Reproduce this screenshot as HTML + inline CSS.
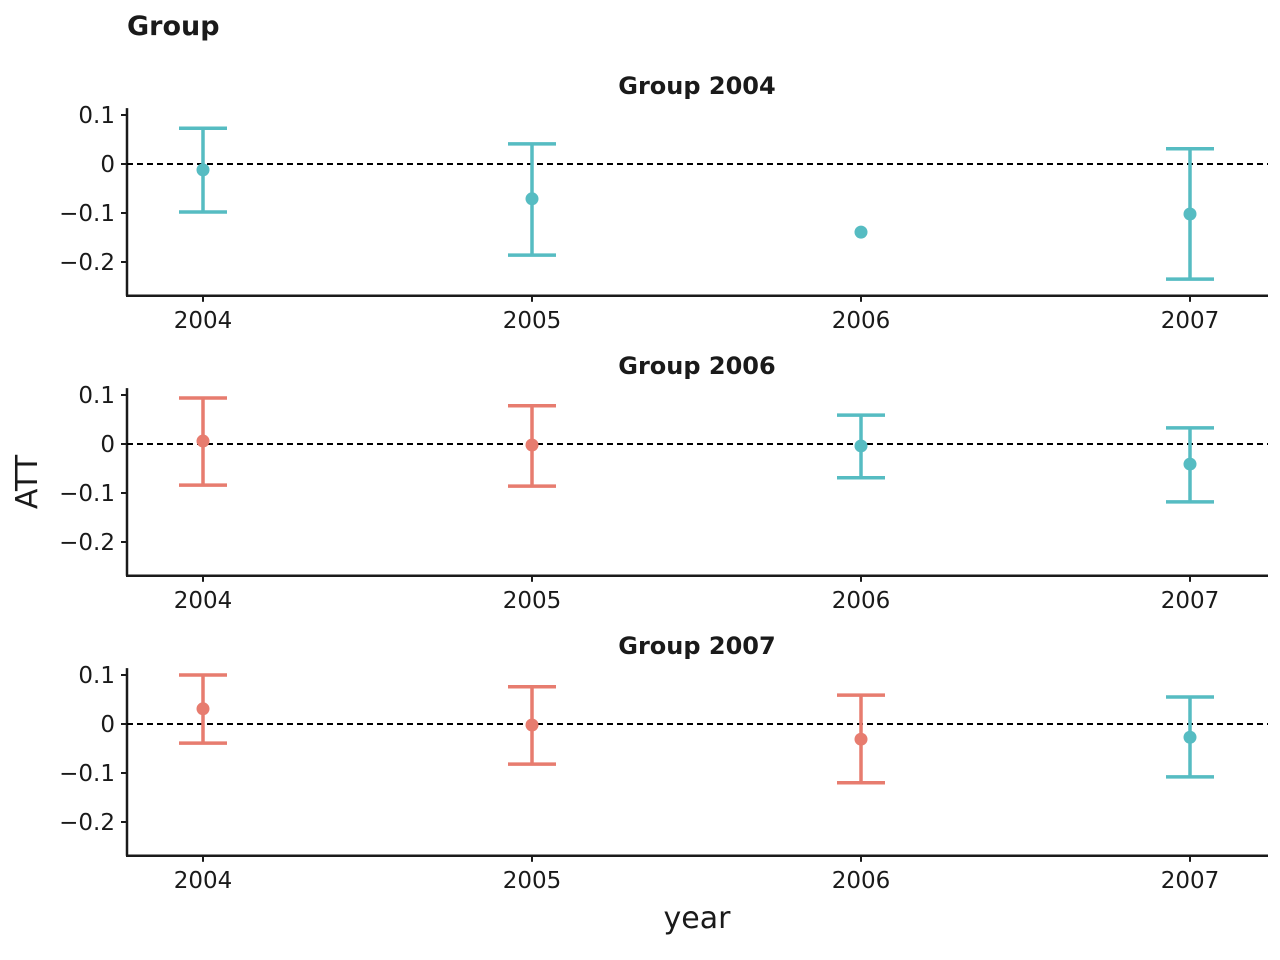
<!DOCTYPE html>
<html><head><meta charset="utf-8"><style>
body{margin:0;background:#fff;}
svg{display:block;font-family:"DejaVu Sans","Liberation Sans",sans-serif;}
</style></head><body>
<svg id="chart" width="1280" height="960">
<text x="127" y="35" font-size="27" font-weight="bold" fill="#1a1a1a">Group</text>
<text x="37" y="482" font-size="30" fill="#1a1a1a" transform="rotate(-90 37 482)" text-anchor="middle">ATT</text>
<text x="697" y="928" font-size="30" fill="#1a1a1a" text-anchor="middle">year</text>
</svg>
<script>
const years = [2004, 2005, 2006, 2007];
const panelTitles = ["Group 2004", "Group 2006", "Group 2007"];
const yTicks = [0.1, 0, -0.1, -0.2];
const yTickLabels = ["0.1", "0", "\u22120.1", "\u22120.2"];
const att1 = [-0.012, -0.071, -0.139, -0.102];
const upper1 = [0.073, 0.041, null, 0.031];
const lower1 = [-0.098, -0.186, null, -0.235];
const post1 = [1, 1, 1, 1];
const att2 = [0.006, -0.002, -0.004, -0.041];
const upper2 = [0.094, 0.078, 0.059, 0.033];
const lower2 = [-0.084, -0.086, -0.069, -0.118];
const post2 = [0, 0, 1, 1];
const att3 = [0.031, -0.002, -0.031, -0.027];
const upper3 = [0.1, 0.076, 0.059, 0.055];
const lower3 = [-0.039, -0.082, -0.12, -0.108];
const post3 = [0, 0, 0, 1];

const panels = [[att1, upper1, lower1, post1], [att2, upper2, lower2, post2], [att3, upper3, lower3, post3]];
const svg = document.getElementById('chart');
const NS = 'http://www.w3.org/2000/svg';
function mk(tag, attrs, parent) {
  const e = document.createElementNS(NS, tag);
  for (const k in attrs) e.setAttribute(k, attrs[k]);
  (parent || svg).appendChild(e);
  return e;
}
const xScale = y => 203 + (y - 2004) * 329;
const yMin = -0.269, yMax = 0.114;
panels.forEach((p, i) => {
  const zero = 164 + i * 280;
  const yScale = v => zero - v * 490;
  const g = mk('g', {});
  
  
  const t = mk('text', {x: 697, y: 94 + i * 280, 'font-size': 24, 'font-weight': 'bold', fill: '#1a1a1a', 'text-anchor': 'middle'}, g);
  t.textContent = panelTitles[i];
  
  
  const top = yScale(yMax), bot = yScale(yMin);
  const ya = mk('line', {x1: 127, x2: 127, y1: top, y2: bot, stroke: '#1a1a1a', 'stroke-width': 2.5}, g);
  
  
  const xa = mk('line', {x1: 126, x2: 1268, y1: bot, y2: bot, stroke: '#1a1a1a', 'stroke-width': 2.5}, g);
  
  
  yTicks.forEach((v, k) => {
    mk('line', {x1: 121, x2: 127, y1: yScale(v), y2: yScale(v), stroke: '#1a1a1a', 'stroke-width': 2}, g);
    const tl = mk('text', {x: 115, y: yScale(v) + 8, 'font-size': 23, fill: '#1a1a1a', 'text-anchor': 'end'}, g);
    tl.textContent = yTickLabels[k];
    
    
  });
  years.forEach(y => {
    mk('line', {x1: xScale(y), x2: xScale(y), y1: bot, y2: bot + 6, stroke: '#1a1a1a', 'stroke-width': 2}, g);
    const tl = mk('text', {x: xScale(y), y: bot + 32, 'font-size': 23, fill: '#1a1a1a', 'text-anchor': 'middle'}, g);
    tl.textContent = y;
    
    
  });
  const zl = mk('line', {x1: 127, x2: 1268, y1: zero, y2: zero, stroke: '#000', 'stroke-width': 2, 'stroke-dasharray': '6,4'}, g);
  
  
  const [att, up, lo, post] = p;
  years.forEach((y, k) => {
    const c = post[k] ? '#56BCC2' : '#E77C6F';
    const x = xScale(y);
    if (up[k] !== null) {
      const eb = mk('g', {stroke: c, 'stroke-width': 3.5, fill: 'none'}, g);
      
      
      mk('line', {x1: x, x2: x, y1: yScale(up[k]), y2: yScale(lo[k])}, eb);
      mk('line', {x1: x - 24, x2: x + 24, y1: yScale(up[k]), y2: yScale(up[k])}, eb);
      mk('line', {x1: x - 24, x2: x + 24, y1: yScale(lo[k]), y2: yScale(lo[k])}, eb);
    }
    const pt = mk('circle', {cx: x, cy: yScale(att[k]), r: 6.5, fill: c}, g);
    
    
  });
});
</script>
</body></html>
